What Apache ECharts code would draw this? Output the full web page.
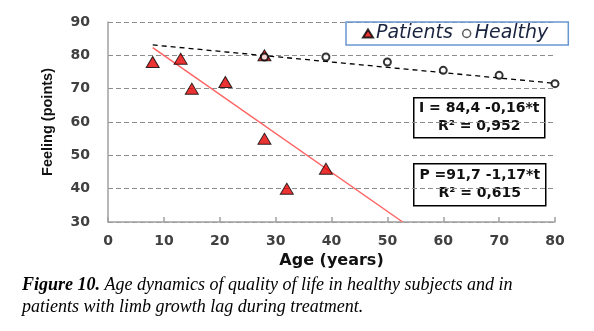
<!DOCTYPE html>
<html>
<head>
<meta charset="utf-8">
<script src="https://cdn.jsdelivr.net/npm/echarts@6/dist/echarts.min.js"></script>
<style>
html, body { margin: 0; padding: 0; background: #fff; }
#chart { width: 594px; height: 331px; }
</style>
</head>
<body>
<div id="chart"></div>
<script>
// Patients: age (years) and feeling score (points)
const patientAges = [8, 13, 15, 21, 28, 28, 32, 39];
const patientFeeling = [78, 79, 70, 72, 80, 55, 40, 46];
// Healthy subjects
const healthyAges = [28, 39, 50, 60, 70, 80];
const healthyFeeling = [79.5, 79.5, 78, 75.5, 74, 71.5];
// Linear fits: [intercept, slope, R²]
const patientFit = [91.7, -1.17, 0.615];
const healthyFit = [84.4, -0.16, 0.952];
// Age span covered by the fitted lines
const fitAges = [8, 80];
// Axis ranges: [min, max, step]
const ageAxis = [0, 80, 10];
const feelingAxis = [30, 90, 10];

const fmt = v => String(v).replace('.', ',');
const fitLine = (fit) => {
  const [a, b] = fit;
  let end = fitAges[1];
  // stop the line where it leaves the bottom of the plot
  if (a + b * end < feelingAxis[0]) end = (feelingAxis[0] - a) / b;
  return [[fitAges[0], a + b * fitAges[0]], [end, a + b * end]];
};

const tickFont = { fontFamily: 'DejaVu Sans', fontWeight: 'bold', fontSize: 14, color: '#404040' };

function eqBox(x, y, w, h, line1, line2) {
  const txt = (t, dy) => ({
    type: 'text', x: w / 2, y: h / 2 + dy,
    style: { text: t, fill: '#111', fontFamily: 'DejaVu Sans', fontWeight: 'bold', fontSize: 14,
             align: 'center', verticalAlign: 'middle' }
  });
  return {
    type: 'group', left: x, top: y,
    children: [
      { type: 'rect', shape: { x: 0, y: 0, width: w, height: h },
        style: { fill: '#fff', stroke: '#000', lineWidth: 1.5 } },
      txt(line1, -9),
      txt(line2, 9)
    ]
  };
}

const chart = echarts.init(document.getElementById('chart'), null, { renderer: 'canvas' });
chart.setOption({
  backgroundColor: '#fff',
  animation: false,
  grid: { left: 108, right: 39, top: 22, bottom: 109 },
  legend: {
    left: 346, top: 22,
    data: [
      { name: 'Patients', icon: 'triangle' },
      { name: 'Healthy', icon: 'circle', itemStyle: { borderWidth: 1.5, borderColor: '#333' } }
    ],
    itemWidth: 10, itemHeight: 8, itemGap: 9,
    borderColor: '#6a96d0', borderWidth: 1.5, borderRadius: 0,
    padding: [2, 20, 2, 16],
    textStyle: { fontFamily: 'DejaVu Sans', fontStyle: 'italic', fontSize: 19, color: '#1a2440', padding: [0, 0, 0, -2] }
  },
  xAxis: {
    type: 'value', min: ageAxis[0], max: ageAxis[1], interval: ageAxis[2],
    name: 'Age (years)', nameLocation: 'middle', nameGap: 28,
    nameTextStyle: { fontFamily: 'DejaVu Sans', fontWeight: 'bold', fontSize: 16, color: '#111' },
    axisLine: { show: true, lineStyle: { color: '#a0a0a0', width: 1.5 } },
    axisTick: { show: true, inside: true, length: 5, lineStyle: { color: '#a0a0a0', width: 1.5 } },
    axisLabel: Object.assign({ margin: 12 }, tickFont),
    splitLine: { show: false }
  },
  yAxis: {
    type: 'value', min: feelingAxis[0], max: feelingAxis[1], interval: feelingAxis[2],
    name: 'Feeling (points)', nameLocation: 'middle', nameGap: 53, nameRotate: 90,
    nameTextStyle: { fontFamily: 'Liberation Sans', fontWeight: 'bold', fontSize: 14.5, color: '#111' },
    axisLine: { show: true, lineStyle: { color: '#a0a0a0', width: 1.5 } },
    axisTick: { show: false },
    axisLabel: Object.assign({ margin: 18 }, tickFont),
    splitLine: { show: true, lineStyle: { color: '#8c8c8c', width: 1, type: [5, 3] } }
  },
  series: [
    {
      name: 'Patients fit', type: 'line', data: fitLine(patientFit),
      symbol: 'none', silent: true, z: 1,
      lineStyle: { color: '#ff6464', width: 1.5 }
    },
    {
      name: 'Healthy fit', type: 'line', data: fitLine(healthyFit),
      symbol: 'none', silent: true, z: 1,
      lineStyle: { color: '#000', width: 1.3, type: [5, 4] }
    },
    {
      name: 'Patients', type: 'scatter', z: 3,
      data: patientAges.map((a, i) => [a, patientFeeling[i]]),
      symbol: 'triangle', symbolSize: [13, 11],
      itemStyle: { color: '#e60000', borderColor: '#000', borderWidth: 1 }
    },
    {
      name: 'Healthy', type: 'scatter', z: 4,
      data: healthyAges.map((a, i) => [a, healthyFeeling[i]]),
      symbol: 'circle', symbolSize: 7,
      itemStyle: { color: '#fff', borderColor: '#000', borderWidth: 2 }
    }
  ],
  graphic: [
    eqBox(413, 97, 131, 40,
      'I = ' + fmt(healthyFit[0]) + ' -' + fmt(-healthyFit[1]) + '*t',
      'R² = ' + fmt(healthyFit[2])),
    eqBox(413, 163, 132, 42,
      'P =' + fmt(patientFit[0]) + ' -' + fmt(-patientFit[1]) + '*t',
      'R² = ' + fmt(patientFit[2])),
    {
      type: 'text', left: 22, top: 276,
      style: {
        text: '{b|Figure 10.}{n| Age dynamics of quality of life in healthy subjects and in}\n{n|patients with limb growth lag during treatment.}',
        rich: {
          b: { fontFamily: 'Liberation Serif', fontStyle: 'italic', fontWeight: 'bold', fontSize: 18, fill: '#000', lineHeight: 22 },
          n: { fontFamily: 'Liberation Serif', fontStyle: 'italic', fontSize: 18, fill: '#000', lineHeight: 22 }
        }
      }
    }
  ]
});
</script>
</body>
</html>
